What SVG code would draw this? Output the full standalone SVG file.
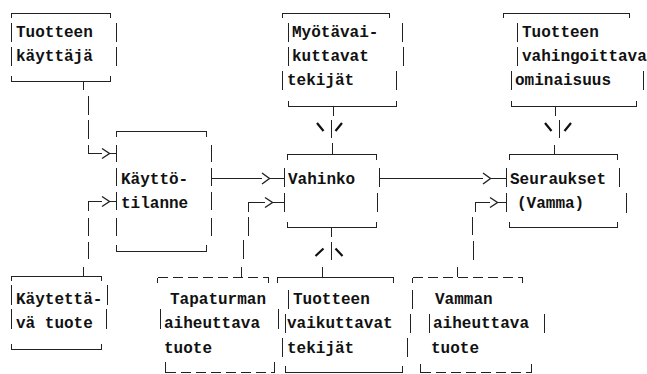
<svg xmlns="http://www.w3.org/2000/svg" width="647" height="374" viewBox="0 0 647 374">
  <defs>
    <style>
      .t { font-family: "Liberation Mono", "DejaVu Sans Mono", monospace; font-size: 16px; font-weight: bold; fill: #111; }
      .ln { fill: none; stroke: #222; stroke-width: 1; shape-rendering: crispEdges; }
      .dash { fill: none; stroke: #222; stroke-width: 1; stroke-dasharray: 10 5; shape-rendering: crispEdges; }
      .tip { fill: none; stroke: #222; stroke-width: 1.4; }
      .slant { fill: none; stroke: #111; stroke-width: 2.2; }
    </style>
  </defs>
  <rect width="647" height="374" fill="#fff"/>

  <!-- Tuotteen käyttäjä -->
  <g id="tuotteen-kayttaja">
    <path class="ln" d="M11.5 18V13.5H110.5V18 M11.5 23V42 M11.5 47V66 M116.5 23V42 M116.5 47V66 M11.5 76V81.5H110.5V76"/>
    <text class="t" x="16" y="37">Tuotteen</text>
    <text class="t" x="16" y="61">käyttäjä</text>
  </g>

  <!-- Käyttötilanne -->
  <g id="kayttotilanne">
    <path class="ln" d="M116.5 137V131.5H206.5V137 M116.5 145V162 M116.5 168V186 M116.5 192V210 M116.5 218V236 M211.5 145V162 M211.5 168V186 M211.5 192V210 M211.5 218V236 M116.5 245V251.5H206.5V245"/>
    <text class="t" x="121" y="184">Käyttö-</text>
    <text class="t" x="121" y="208">tilanne</text>
  </g>

  <!-- Käytettävä tuote -->
  <g id="kaytettava-tuote">
    <path class="ln" d="M11.5 281V276.5H101.5V281 M11.5 285V305 M11.5 309V329 M107.5 285V305 M106.5 309V329 M11.5 344V349.5H101.5V344"/>
    <text class="t" x="16" y="304">Käytettä-</text>
    <text class="t" x="16" y="328">vä tuote</text>
  </g>

  <!-- Vahinko -->
  <g id="vahinko">
    <path class="ln" d="M287.5 160V154.5H376.5V160 M284.5 168V187 M284.5 193V212 M379.5 168V187 M377.5 193V212 M287.5 222V227.5H376.5V222"/>
    <text class="t" x="288" y="184">Vahinko</text>
  </g>

  <!-- Myötävaikuttavat tekijät -->
  <g id="myotavaikuttavat-tekijat">
    <path class="ln" d="M282.5 18V13.5H389.5V18 M288.5 23V42 M288.5 47V66 M282.5 71V90 M402.5 23V42 M403.5 47V66 M396.5 71V90 M288.5 101V106.5H396.5V101"/>
    <text class="t" x="292" y="37">Myötävai-</text>
    <text class="t" x="292" y="61">kuttavat</text>
    <text class="t" x="287" y="85">tekijät</text>
  </g>

  <!-- Tuotteen vahingoittava ominaisuus -->
  <g id="vahingoittava-ominaisuus">
    <path class="ln" d="M503.5 18V13.5H629.5V18 M517.5 23V42 M517.5 47V66 M511.5 71V90 M643.5 71V90 M511.5 101V106.5H636.5V101"/>
    <text class="t" x="522" y="37">Tuotteen</text>
    <text class="t" x="522" y="61">vahingoittava</text>
    <text class="t" x="515" y="85">ominaisuus</text>
  </g>

  <!-- Seuraukset (Vamma) -->
  <g id="seuraukset">
    <path class="ln" d="M509.5 160V154.5H617.5V160 M506.5 168V187 M506.5 193V212 M619.5 168V187 M626.5 193V213 M509.5 222V227.5H617.5V222"/>
    <text class="t" x="510" y="184">Seuraukset</text>
    <text class="t" x="517" y="208">(Vamma)</text>
  </g>

  <!-- Tapaturman aiheuttava tuote (dashed) -->
  <g id="tapaturman-aiheuttava-tuote">
    <path class="ln" d="M157.5 277.5V283 M268.5 277.5V283 M160.5 309V329 M278.5 309V329 M165.5 362V372.5 M274.5 362V372.5"/>
    <path class="dash" d="M157.5 277.5H268.5 M165.5 372.5H274.5"/>
    <text class="t" x="170" y="304">Tapaturman</text>
    <text class="t" x="164" y="328">aiheuttava</text>
    <text class="t" x="164" y="353">tuote</text>
  </g>

  <!-- Tuotteen vaikuttavat tekijät (its right side is shared with the next box) -->
  <g id="tuotteen-vaikuttavat-tekijat">
    <path class="ln" d="M277.5 283V277.5H393.5V283 M288.5 290V309 M285.5 314V333 M282.5 338V357 M412.5 290V309 M410.5 314V333 M407.5 338V357 M285.5 366V372.5H402.5V366"/>
    <text class="t" x="293" y="304">Tuotteen</text>
    <text class="t" x="287" y="328">vaikuttavat</text>
    <text class="t" x="287" y="353">tekijät</text>
  </g>

  <!-- Vamman aiheuttava tuote (dashed) -->
  <g id="vamman-aiheuttava-tuote">
    <path class="ln" d="M412.5 277.5V283 M522.5 277.5V283 M429.5 314V333 M544.5 314V333 M420.5 364V372.5 M531.5 364V372.5"/>
    <path class="dash" d="M412.5 277.5H522.5 M420.5 372.5H531.5"/>
    <text class="t" x="435" y="304">Vamman</text>
    <text class="t" x="433" y="328">aiheuttava</text>
    <text class="t" x="431" y="353">tuote</text>
  </g>

  <!-- Connectors -->
  <g id="connectors">
    <!-- user -> use situation -->
    <path class="ln" d="M83.5 81.5V90 M88.5 96V115 M88.5 120V139 M88.5 145V153.5H102 M110 153.5H116"/>
    <path class="tip" d="M102 148.5L109.5 153.5L102 158.5"/>
    <!-- used product -> use situation -->
    <path class="ln" d="M88.5 211V201.5H102 M110 201.5H116 M88.5 218V236 M88.5 242V259 M83.5 267V276"/>
    <path class="tip" d="M102 196.5L109.5 201.5L102 206.5"/>
    <!-- use situation -> damage -->
    <path class="ln" d="M211.5 178.5H262 M270 178.5H284"/>
    <path class="tip" d="M262 173L269.5 178.5L262 184"/>
    <!-- accident product -> damage -->
    <path class="ln" d="M248.5 212V202.5H265 M273 202.5H284 M248.5 217V236 M243.5 240V259 M241.5 267V277"/>
    <path class="tip" d="M265 197.5L272.5 202.5L265 207.5"/>
    <!-- contributing factors -> damage -->
    <path class="ln" d="M333.5 106V116 M331.5 120V138 M332.5 143V154"/>
    <path class="slant" d="M317 123L323.5 131 M342 123L335.5 131"/>
    <!-- product factors -> damage -->
    <path class="ln" d="M331.5 228V237 M331.5 242V260 M322.5 267V277"/>
    <path class="slant" d="M315.5 256L323.5 248.5 M335.5 248.5L342.5 256"/>
    <!-- damage -> consequences -->
    <path class="ln" d="M379.5 178.5H483 M491 178.5H506"/>
    <path class="tip" d="M483 173L490.5 178.5L483 184"/>
    <!-- harmful property -> consequences -->
    <path class="ln" d="M555.5 106V116 M559.5 120V138 M554.5 145V154"/>
    <path class="slant" d="M545 123L551.5 131 M571 123L564.5 131"/>
    <!-- injuring product -> consequences -->
    <path class="ln" d="M475.5 212V202.5H490 M498 202.5H506 M472.5 217V235 M473.5 241V260 M457.5 267V277"/>
    <path class="tip" d="M490 197.5L497.5 202.5L490 207.5"/>
  </g>
</svg>
